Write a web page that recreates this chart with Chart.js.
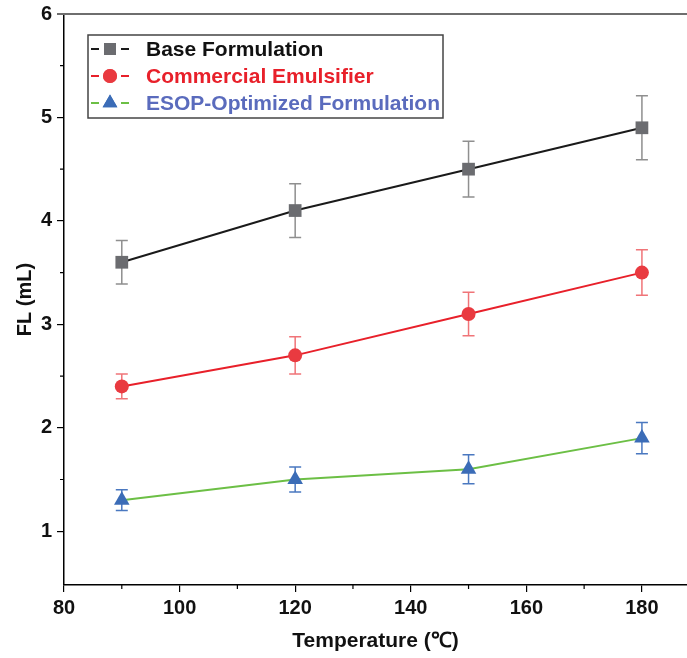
<!DOCTYPE html>
<html>
<head>
<meta charset="utf-8">
<script src="https://cdn.jsdelivr.net/npm/chart.js@4.4.1/dist/chart.umd.min.js"></script>
<style>
  html, body { margin: 0; padding: 0; background: #fff; }
  #wrap { width: 687px; height: 658px; }
</style>
</head>
<body>
<div id="wrap"><canvas id="chart-fl" width="687" height="658"></canvas></div>
<script>
// Data
const temperatures = [90, 120, 150, 180];
const baseFL = [3.6, 4.1, 4.5, 4.9];
const baseErr = [0.21, 0.26, 0.27, 0.31];
const commercialFL = [2.4, 2.7, 3.1, 3.5];
const commercialErr = [0.12, 0.18, 0.21, 0.22];
const esopFL = [1.3, 1.5, 1.6, 1.9];
const esopErr = [0.10, 0.12, 0.14, 0.15];

const xTicks = [80, 100, 120, 140, 160, 180];
const yTicks = [1, 2, 3, 4, 5, 6];
const xMinor = [90, 110, 130, 150, 170];
const yMinor = [1.5, 2.5, 3.5, 4.5, 5.5];

const seriesNames = ['Base Formulation', 'Commercial Emulsifier', 'ESOP-Optimized Formulation'];

const SERIES = [
    { values: baseFL, err: baseErr, line: '#1a1a1a', marker: '#6b6c70', bar: '#8f8f8f', text: '#111111', style: 'rect', radius: 9 },
    { values: commercialFL, err: commercialErr, line: '#e8202a', marker: '#e93a40', bar: '#f07478', text: '#e8202a', style: 'circle', radius: 7 },
    { values: esopFL, err: esopErr, line: '#6cbf45', marker: '#3b6cb7', bar: '#4a78c0', text: '#5a6bbd', style: 'triangle', radius: 9 }
];

const toPoints = vals => vals.map((v, i) => ({ x: temperatures[i], y: v }));

// error bars, minor ticks, top frame line, legend
const extrasPlugin = {
    id: 'extras',
    beforeDatasetsDraw(chart) {
        const ctx = chart.ctx;
        const xs = chart.scales.x, ys = chart.scales.y;
        ctx.save();
        SERIES.forEach(s => {
            ctx.strokeStyle = s.bar;
            ctx.lineWidth = 1.5;
            s.values.forEach((v, i) => {
                const px = xs.getPixelForValue(temperatures[i]);
                const top = ys.getPixelForValue(v + s.err[i]);
                const bot = ys.getPixelForValue(v - s.err[i]);
                ctx.beginPath();
                ctx.moveTo(px, top); ctx.lineTo(px, bot);
                ctx.moveTo(px - 6, top); ctx.lineTo(px + 6, top);
                ctx.moveTo(px - 6, bot); ctx.lineTo(px + 6, bot);
                ctx.stroke();
            });
        });
        ctx.restore();
    },
    afterDraw(chart) {
        const ctx = chart.ctx;
        const xs = chart.scales.x, ys = chart.scales.y;
        const area = chart.chartArea;
        ctx.save();
        ctx.strokeStyle = '#000';
        ctx.lineWidth = 1.2;
        ctx.beginPath();
        xMinor.forEach(v => {
            const px = xs.getPixelForValue(v);
            ctx.moveTo(px, area.bottom); ctx.lineTo(px, area.bottom + 4);
        });
        yMinor.forEach(v => {
            const py = ys.getPixelForValue(v);
            ctx.moveTo(area.left, py); ctx.lineTo(area.left - 4, py);
        });
        ctx.stroke();
        // top line
        ctx.strokeStyle = '#6e6e6e';
        ctx.lineWidth = 2;
        ctx.beginPath();
        ctx.moveTo(area.left - 7, area.top); ctx.lineTo(area.right, area.top);
        ctx.stroke();

        // legend
        const lx = 88, ly = 35, lw = 355, lh = 83;
        ctx.strokeStyle = '#444';
        ctx.lineWidth = 1.5;
        ctx.strokeRect(lx, ly, lw, lh);
        ctx.font = 'bold 21px "Liberation Sans", Arial, sans-serif';
        ctx.textBaseline = 'middle';
        SERIES.forEach((s, i) => {
            const cy = 49 + i * 27;
            ctx.strokeStyle = s.line;
            ctx.lineWidth = 2;
            ctx.beginPath();
            ctx.moveTo(91, cy); ctx.lineTo(99, cy);
            ctx.moveTo(121, cy); ctx.lineTo(129, cy);
            ctx.stroke();
            ctx.fillStyle = s.marker;
            Chart.helpers.drawPoint(ctx, { pointStyle: s.style, radius: s.style === 'circle' ? 7 : 8.5, rotation: 0, borderWidth: 0 }, 110, cy);
            ctx.fill();
            ctx.fillStyle = s.text;
            ctx.fillText(seriesNames[i], 146, cy + 1);
        });
        ctx.restore();
    }
};

const datasets = SERIES.map((s, i) => ({
    label: seriesNames[i],
    data: toPoints(s.values),
    borderColor: s.line,
    borderWidth: 2,
    backgroundColor: s.marker,
    pointBackgroundColor: s.marker,
    pointBorderColor: s.marker,
    pointBorderWidth: 0,
    pointStyle: s.style,
    pointRadius: s.radius,
    showLine: true,
    tension: 0
}));

new Chart(document.getElementById('chart-fl'), {
    type: 'scatter',
    data: { datasets },
    options: {
        responsive: false,
        animation: false,
        layout: { autoPadding: false, padding: { top: 14, right: 0, left: 0, bottom: 0 } },
        plugins: { legend: { display: false }, tooltip: { enabled: false } },
        scales: {
            x: {
                type: 'linear',
                min: 80,
                max: 187.8,
                afterBuildTicks: axis => { axis.ticks = xTicks.map(v => ({ value: v })); },
                afterFit: axis => { axis.height = 73; axis.paddingLeft = 0; axis.paddingRight = 0; },
                border: { display: true, color: '#000', width: 1.5 },
                grid: { drawOnChartArea: false, drawTicks: true, tickLength: 7, color: '#000', lineWidth: 1.2 },
                ticks: {
                    color: '#111',
                    padding: 4,
                    maxRotation: 0,
                    font: { family: '"Liberation Sans", Arial', size: 20, weight: 'bold' }
                },
                title: {
                    display: true,
                    text: 'Temperature (\u2103)',
                    color: '#111',
                    padding: { top: 8 },
                    font: { family: '"Liberation Sans", Arial', size: 21, weight: 'bold' }
                }
            },
            y: {
                type: 'linear',
                min: 0.48,
                max: 6,
                afterBuildTicks: axis => { axis.ticks = yTicks.map(v => ({ value: v })); },
                afterFit: axis => { axis.width = 64; axis.paddingTop = 0; axis.paddingBottom = 0; },
                border: { display: true, color: '#000', width: 1.5 },
                grid: { drawOnChartArea: false, drawTicks: true, tickLength: 7, color: '#000', lineWidth: 1.2 },
                ticks: {
                    color: '#111',
                    padding: 5,
                    font: { family: '"Liberation Sans", Arial', size: 20, weight: 'bold' }
                },
                title: {
                    display: true,
                    text: 'FL (mL)',
                    color: '#111',
                    padding: { top: 13, bottom: 0 },
                    font: { family: '"Liberation Sans", Arial', size: 20, weight: 'bold' }
                }
            }
        }
    },
    plugins: [extrasPlugin]
});
</script>
</body>
</html>
